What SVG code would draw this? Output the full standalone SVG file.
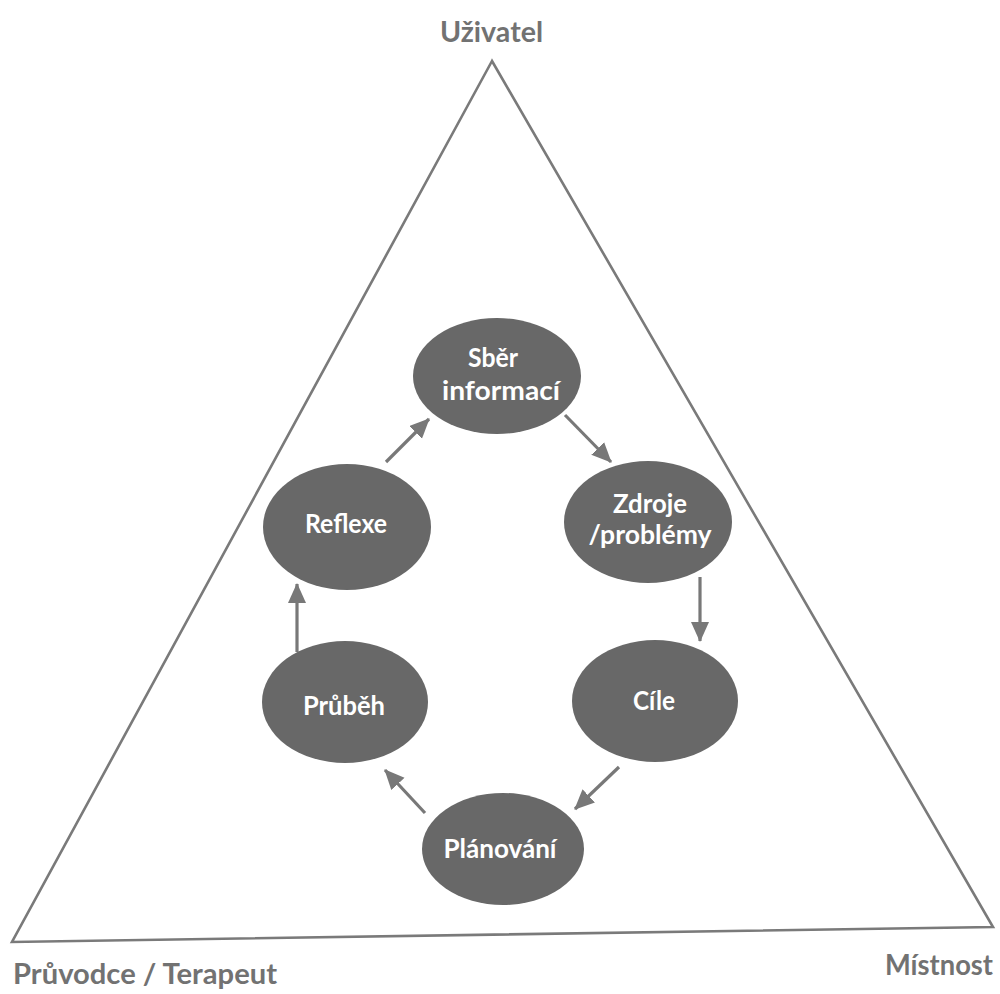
<svg xmlns="http://www.w3.org/2000/svg" width="1000" height="994" viewBox="0 0 1000 994">
  <style>
    .corner { font-family: Lato, "Open Sans", "Liberation Sans", sans-serif; font-weight: 700; font-size: 29px; fill: #727272; }
    .step { fill: #686868; }
    .step-label { font-family: Lato, "Open Sans", "Liberation Sans", sans-serif; font-weight: 700; font-size: 26.5px; fill: #ffffff; text-anchor: middle; }
    .flow { stroke: #787878; stroke-width: 3.2; fill: none; marker-end: url(#head); }
  </style>
  <defs>
    <marker id="head" markerUnits="userSpaceOnUse" markerWidth="22" markerHeight="20" refX="19" refY="9" orient="auto">
      <path d="M0,0 L20,9 L0,18 Z" fill="#787878"/>
    </marker>
  </defs>
  <rect width="1000" height="994" fill="#ffffff"/>

  <!-- outer triangle -->
  <g id="triangle">
    <polygon points="492,61 12,942 993,927" fill="none" stroke="#7a7a7a" stroke-width="2.6" stroke-linejoin="miter"/>
  </g>

  <!-- corner labels -->
  <g id="corner-uzivatel">
    <text class="corner" x="440" y="42" textLength="103" lengthAdjust="spacingAndGlyphs">Uživatel</text>
  </g>
  <g id="corner-pruvodce">
    <text class="corner" x="13" y="984" textLength="264" lengthAdjust="spacingAndGlyphs">Průvodce / Terapeut</text>
  </g>
  <g id="corner-mistnost">
    <text class="corner" x="885" y="975" textLength="108" lengthAdjust="spacingAndGlyphs">Místnost</text>
  </g>

  <!-- cycle connectors -->
  <g id="connectors">
    <line class="flow" x1="386" y1="462" x2="429" y2="419"/>
    <line class="flow" x1="565" y1="415" x2="611" y2="462"/>
    <line class="flow" x1="700" y1="577" x2="700" y2="641"/>
    <line class="flow" x1="619" y1="767" x2="575" y2="809"/>
    <line class="flow" x1="425" y1="813" x2="385" y2="770"/>
    <line class="flow" x1="297" y1="652" x2="297" y2="584"/>
  </g>

  <!-- cycle steps -->
  <g id="node-sber">
    <ellipse class="step" cx="497" cy="376" rx="84" ry="58"/>
    <text class="step-label" x="493" y="367" textLength="50" lengthAdjust="spacingAndGlyphs">Sběr</text>
    <text class="step-label" x="501" y="400" textLength="118" lengthAdjust="spacingAndGlyphs">informací</text>
  </g>
  <g id="node-zdroje">
    <ellipse class="step" cx="648" cy="522" rx="84" ry="61"/>
    <text class="step-label" x="650" y="513" textLength="74" lengthAdjust="spacingAndGlyphs">Zdroje</text>
    <text class="step-label" x="650" y="544" textLength="123" lengthAdjust="spacingAndGlyphs">/problémy</text>
  </g>
  <g id="node-cile">
    <ellipse class="step" cx="655" cy="701" rx="83" ry="61"/>
    <text class="step-label" x="654" y="710" textLength="42" lengthAdjust="spacingAndGlyphs">Cíle</text>
  </g>
  <g id="node-planovani">
    <ellipse class="step" cx="503" cy="849" rx="81" ry="56"/>
    <text class="step-label" x="500" y="858" textLength="113" lengthAdjust="spacingAndGlyphs">Plánování</text>
  </g>
  <g id="node-prubeh">
    <ellipse class="step" cx="345" cy="702" rx="83" ry="61"/>
    <text class="step-label" x="344" y="715" textLength="82" lengthAdjust="spacingAndGlyphs">Průběh</text>
  </g>
  <g id="node-reflexe">
    <ellipse class="step" cx="347" cy="527" rx="84" ry="63"/>
    <text class="step-label" x="346" y="533" textLength="82" lengthAdjust="spacingAndGlyphs">Reflexe</text>
  </g>
</svg>
